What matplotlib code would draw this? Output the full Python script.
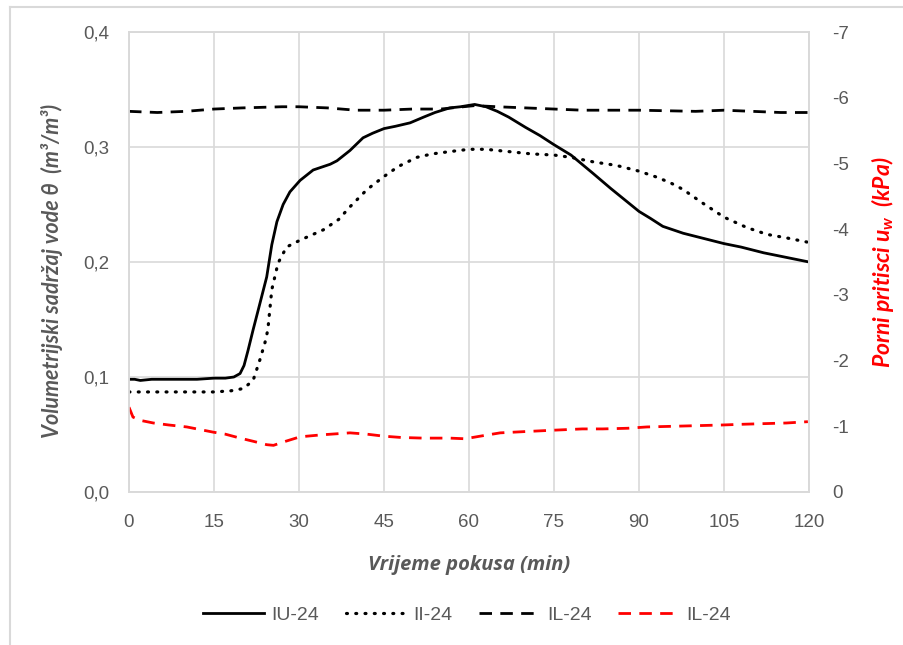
import numpy as np
import matplotlib.pyplot as plt
from matplotlib.ticker import FuncFormatter, MultipleLocator
from matplotlib.lines import Line2D

plt.rcParams['font.family'] = ['Liberation Sans', 'DejaVu Sans']
plt.rcParams['mathtext.fontset'] = 'custom'
plt.rcParams['mathtext.it'] = 'Lato:bold:italic'
plt.rcParams['mathtext.rm'] = 'Lato:bold:italic'

# IU-24 (solid), volumetric water content
iu_t = [0, 1, 2, 4, 6, 8, 10, 12, 15, 17, 18.5, 19.6, 20.3, 21, 21.9, 23, 24.3, 25.2, 26.1,
        27.2, 28.4, 30.2, 32.5, 35.5, 36.7, 39, 41.3, 43, 45, 47, 49.6, 52, 54, 56.6, 58.5,
        61, 63, 65, 67, 70, 72.5, 75, 78, 81.9, 85, 88, 90, 92, 94.2, 97.8, 101, 105,
        108, 112, 116, 120]
iu_v = [0.098, 0.098, 0.097, 0.098, 0.098, 0.098, 0.098, 0.098, 0.099, 0.099, 0.100, 0.103,
        0.110, 0.123, 0.141, 0.162, 0.187, 0.215, 0.235, 0.250, 0.261, 0.271, 0.280, 0.285,
        0.288, 0.297, 0.308, 0.312, 0.316, 0.318, 0.321, 0.326, 0.330, 0.334, 0.335,
        0.337, 0.335, 0.331, 0.326, 0.317, 0.310, 0.302, 0.293, 0.277, 0.264, 0.252, 0.244,
        0.238, 0.231, 0.225, 0.221, 0.216, 0.213, 0.208, 0.204, 0.200]

# II-24 (dotted)
ii_t = [0, 5, 10, 15, 18, 20.2, 21.9, 23.1, 24, 24.5, 25.2, 26.3, 27.8, 30.2, 34.3, 37, 39,
        42, 44.9, 47.5, 50.8, 53.5, 56.6, 60, 63, 67, 71, 75, 78, 82, 86, 90, 93, 95.5, 97.8,
        101, 105, 109, 112.6, 116, 120]
ii_v = [0.087, 0.087, 0.087, 0.087, 0.088, 0.090, 0.097, 0.115, 0.130, 0.141, 0.176, 0.199,
        0.213, 0.219, 0.228, 0.237, 0.248, 0.263, 0.274, 0.283, 0.291, 0.294, 0.296, 0.298,
        0.298, 0.296, 0.294, 0.293, 0.291, 0.287, 0.284, 0.279, 0.274, 0.269, 0.263,
        0.252, 0.239, 0.230, 0.224, 0.221, 0.217]

# IL-24 (dashed black)
il_t = [0, 5, 10, 15, 20, 27, 30, 35, 40, 45, 50, 55, 61, 65, 70, 75, 80, 90, 100, 105, 110, 115, 120]
il_v = [0.331, 0.330, 0.331, 0.333, 0.334, 0.335, 0.335, 0.334, 0.332, 0.332, 0.333, 0.333,
        0.336, 0.335, 0.334, 0.333, 0.332, 0.332, 0.331, 0.332, 0.331, 0.330, 0.330]

# IL-24 pore pressure (red, right axis, kPa)
uw_t = [0, 0.7, 2, 4.3, 7, 10.2, 14.9, 17, 19.6, 22, 24.3, 25.5, 27.2, 30.2, 34, 39, 42,
        44.9, 48, 51.9, 56.6, 59.3, 62, 65.5, 70, 74.8, 80, 83.6, 88, 91.4, 96, 104.8,
        108, 111.9, 116, 119.8]
uw_v = [-1.29, -1.14, -1.09, -1.05, -1.02, -0.99, -0.91, -0.88, -0.82, -0.77, -0.72, -0.71,
        -0.76, -0.84, -0.87, -0.90, -0.88, -0.85, -0.83, -0.82, -0.82, -0.81, -0.85, -0.90,
        -0.92, -0.94, -0.96, -0.96, -0.97, -0.99, -1.00, -1.02, -1.03, -1.04, -1.05, -1.07]

labels = ['IU-24', 'II-24', 'IL-24', 'IL-24']

gray = '#595959'
grid = '#d9d9d9'
red = '#ff0000'
dotted = (0, (0.3, 2.6))
dashed = (0, (4.5, 3))
title_font = ['Lato', 'DejaVu Sans']

fig = plt.figure(figsize=(9.04, 6.45), dpi=100)
ax = fig.add_axes([129 / 904, 1 - 492 / 645, 680 / 904, 460 / 645])
ax2 = ax.twinx()

ax.plot(iu_t, iu_v, color='black', lw=2.0, solid_capstyle='round')
ax.plot(ii_t, ii_v, color='black', lw=2.3, linestyle=dotted, dash_capstyle='round')
ax.plot(il_t, il_v, color='black', lw=2.0, linestyle=dashed)
ax2.plot(uw_t, uw_v, color=red, lw=2.0, linestyle=dashed)

ax.set_xlim(0, 120)
ax.set_ylim(0, 0.4)
ax2.set_ylim(0, -7)
ax.xaxis.set_major_locator(MultipleLocator(15))
ax.yaxis.set_major_locator(MultipleLocator(0.1))
ax2.yaxis.set_major_locator(MultipleLocator(1))
ax.yaxis.set_major_formatter(FuncFormatter(lambda v, p: f'{v:.1f}'.replace('.', ',')))
ax2.yaxis.set_major_formatter(FuncFormatter(lambda v, p: '0' if abs(v) < 0.5 else f'{v:.0f}'))

ax.grid(True, color=grid, lw=1.2)
ax.set_axisbelow(True)
for a in (ax, ax2):
    for s in a.spines.values():
        s.set_color(grid)
        s.set_linewidth(1.2)
    a.tick_params(length=0, labelsize=13.5, colors=gray)
ax.tick_params(axis='x', pad=16)
ax.tick_params(axis='y', pad=14)
ax2.tick_params(axis='y', pad=17)

ax.set_xlabel('Vrijeme pokusa (min)', fontsize=14.5, fontstyle='italic', fontweight='bold',
              color=gray, labelpad=17, family=['Open Sans', 'DejaVu Sans'])
ax.set_ylabel('Volumetrijski sadržaj vode θ  (m³/m³)', fontsize=15.5,
              fontstyle='italic', fontweight='bold', color=gray, labelpad=15, family=title_font)
ax.yaxis.label.set_y(0.48)
ax2.set_ylabel(r'Porni pritisci $u_w$  (kPa)', fontsize=16.5, fontstyle='italic',
               fontweight='bold', color=red, labelpad=14, family=title_font)

handles = [Line2D([], [], color='black', lw=2.0),
           Line2D([], [], color='black', lw=2.3, linestyle=dotted, dash_capstyle='round'),
           Line2D([], [], color='black', lw=2.0, linestyle=dashed),
           Line2D([], [], color=red, lw=2.0, linestyle=dashed)]
leg = fig.legend(handles, labels, loc='center', bbox_to_anchor=(467 / 904, 1 - 615 / 645),
                 ncol=4, frameon=False, fontsize=14, handlelength=3.1, columnspacing=1.35,
                 handletextpad=0.4)
for t in leg.get_texts():
    t.set_color(gray)

# chart area border
fig.add_artist(Line2D([10 / 904, 1], [1 - 7 / 645, 1 - 7 / 645], color=grid, lw=1.5,
                      transform=fig.transFigure))
fig.add_artist(Line2D([10 / 904, 10 / 904], [0, 1 - 7 / 645], color=grid, lw=1.5,
                      transform=fig.transFigure))

fig.savefig('out.png', dpi=100)
